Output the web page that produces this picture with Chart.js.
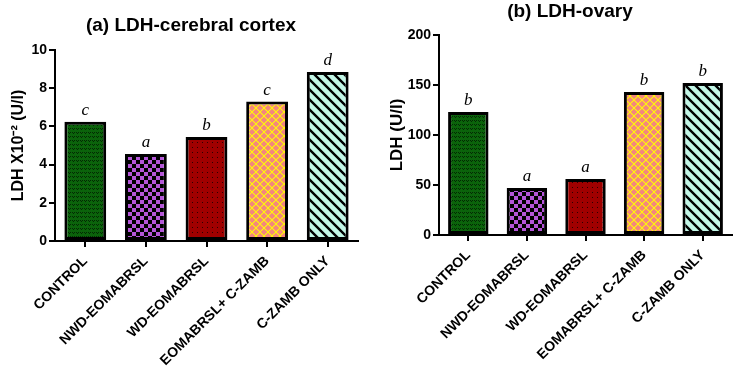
<!DOCTYPE html>
<html lang="en">

<head>
    <meta charset="UTF-8">
    <title>LDH</title>
    <script src="https://cdn.jsdelivr.net/npm/chart.js"></script>
    <style>
        body { margin: 0; background: #fff; font-family: "Liberation Sans", Arial, sans-serif; }
        .box { position: absolute; top: 0; height: 370px; }
        .titulo { position: absolute; font-weight: bold; font-size: 19px; white-space: nowrap;
                  transform: translate(-50%, -50%); color: #000; }
    </style>
</head>

<body>
    <div class="box" style="left:0;width:370px">
        <canvas id="chartCortex" width="370" height="370"></canvas>
    </div>
    <div class="box" style="left:370px;width:363px">
        <canvas id="chartOvary" width="363" height="370"></canvas>
    </div>
    <div class="titulo" style="left:191px;top:25px">(a) LDH-cerebral cortex</div>
    <div class="titulo" style="left:570px;top:11px">(b) LDH-ovary</div>
</body>

</html>

<script>
    // grupos
    const grupos = ['CONTROL', 'NWD-EOMABRSL', 'WD-EOMABRSL', 'EOMABRSL+ C-ZAMB', 'C-ZAMB ONLY'];

    // (a) cortex, LDH x10^-2 (U/l)
    const cortexValores = [6.25, 4.55, 5.45, 7.3, 8.85];
    const cortexLetras = ['c', 'a', 'b', 'c', 'd'];

    // (b) ovary, LDH (U/l)
    const ovaryValores = [123, 47, 56, 143, 152];
    const ovaryLetras = ['b', 'a', 'a', 'b', 'b'];

    // padroes de preenchimento das barras
    function tile(w, h, desenha) {
        const c = document.createElement('canvas');
        c.width = w; c.height = h;
        const g = c.getContext('2d');
        desenha(g, w, h);
        return g.createPattern(c, 'repeat');
    }

    function losango(g, cx, cy, r) {
        g.beginPath();
        g.moveTo(cx, cy - r); g.lineTo(cx + r, cy); g.lineTo(cx, cy + r); g.lineTo(cx - r, cy);
        g.closePath(); g.fill();
    }

    function padroes() {
        const verde = tile(4, 4, function (g) {
            g.fillStyle = '#0b630b'; g.fillRect(0, 0, 4, 4);
            g.fillStyle = '#022a02';
            g.fillRect(0, 0, 1, 1); g.fillRect(2, 0, 1, 1); g.fillRect(1, 1, 1, 1);
        });
        const roxo = tile(8, 8, function (g) {
            g.fillStyle = '#b455d8'; g.fillRect(0, 0, 8, 8);
            g.fillStyle = '#000';
            g.fillRect(0, 0, 4, 4); g.fillRect(4, 4, 4, 4);
        });
        const vermelho = tile(5, 5, function (g) {
            g.fillStyle = '#a00000'; g.fillRect(0, 0, 5, 5);
            g.fillStyle = '#2a0000'; g.fillRect(2, 2, 1, 1);
        });
        const amarelo = tile(8, 8, function (g) {
            g.fillStyle = '#ffff00'; g.fillRect(0, 0, 8, 8);
            g.fillStyle = '#f3867e';
            losango(g, 4, 4, 3.3);
            losango(g, 0, 0, 3.3); losango(g, 8, 0, 3.3);
            losango(g, 0, 8, 3.3); losango(g, 8, 8, 3.3);
        });
        const listras = tile(10, 10, function (g) {
            g.fillStyle = '#c3f7e7'; g.fillRect(0, 0, 10, 10);
            g.strokeStyle = '#000'; g.lineWidth = 2.4;
            g.beginPath();
            g.moveTo(-10, 0); g.lineTo(10, 20);
            g.moveTo(0, 0); g.lineTo(10, 10);
            g.moveTo(0, -10); g.lineTo(20, 10);
            g.stroke();
        });
        return [verde, roxo, vermelho, amarelo, listras];
    }

    // letras acima das barras
    const letrasPlugin = {
        id: 'letras',
        afterDatasetsDraw(chart, args, opts) {
            const ctx = chart.ctx;
            const meta = chart.getDatasetMeta(0);
            ctx.save();
            ctx.font = 'italic 17px "Liberation Serif", "Times New Roman", serif';
            ctx.fillStyle = '#000';
            ctx.textAlign = 'center';
            ctx.textBaseline = 'bottom';
            meta.data.forEach(function (bar, i) {
                ctx.fillText(opts.letras[i], bar.x, bar.y - 3);
            });
            ctx.restore();
        }
    };

    function criarGrafico(id, valores, letras, cfg) {
        const fonteTick = { family: '"Liberation Sans", Arial, sans-serif', weight: 'bold', size: 14 };
        return new Chart(document.getElementById(id), {
            type: 'bar',
            data: {
                labels: grupos,
                datasets: [{
                    data: valores,
                    backgroundColor: padroes(),
                    borderColor: '#000',
                    borderWidth: 3,
                    borderSkipped: false,
                    categoryPercentage: 1,
                    barPercentage: 0.69
                }]
            },
            plugins: [letrasPlugin],
            options: {
                responsive: false,
                animation: false,
                layout: { padding: { left: 0, right: cfg.direita, top: cfg.topo, bottom: 0 } },
                plugins: {
                    legend: { display: false },
                    tooltip: { enabled: false },
                    letras: { letras: letras }
                },
                scales: {
                    x: {
                        afterFit: function (s) { s.height = 370 - cfg.base; },
                        border: { color: '#000', width: 2 },
                        grid: { drawOnChartArea: false, offset: false, color: '#000', lineWidth: 2, tickLength: 6 },
                        ticks: {
                            autoSkip: false, minRotation: 45, maxRotation: 45, padding: 6,
                            color: '#000',
                            font: { family: '"Liberation Sans", Arial, sans-serif', weight: 'bold', size: 14 }
                        }
                    },
                    y: {
                        min: 0,
                        max: cfg.max,
                        afterFit: function (s) { s.width = cfg.esquerda; },
                        border: { color: '#000', width: 2 },
                        grid: { drawOnChartArea: false, color: '#000', lineWidth: 2, tickLength: 6 },
                        ticks: { stepSize: cfg.passo, padding: 2, color: '#000', font: fonteTick },
                        title: {
                            display: true,
                            text: cfg.tituloY,
                            color: '#000',
                            padding: { top: cfg.tituloPad, bottom: 0 },
                            font: { family: '"Liberation Sans", Arial, sans-serif', weight: 'bold', size: cfg.tituloTam }
                        }
                    }
                }
            }
        });
    }

    criarGrafico('chartCortex', cortexValores, cortexLetras, {
        max: 10, passo: 2, tituloY: 'LDH X10\u207B\u00B2 (U/l)', tituloTam: 16,
        esquerda: 55, direita: 12, topo: 50, base: 241, tituloPad: 9
    });

    criarGrafico('chartOvary', ovaryValores, ovaryLetras, {
        max: 200, passo: 50, tituloY: 'LDH (U/l)', tituloTam: 17,
        esquerda: 69, direita: 1, topo: 35, base: 235, tituloPad: 17
    });
</script>
